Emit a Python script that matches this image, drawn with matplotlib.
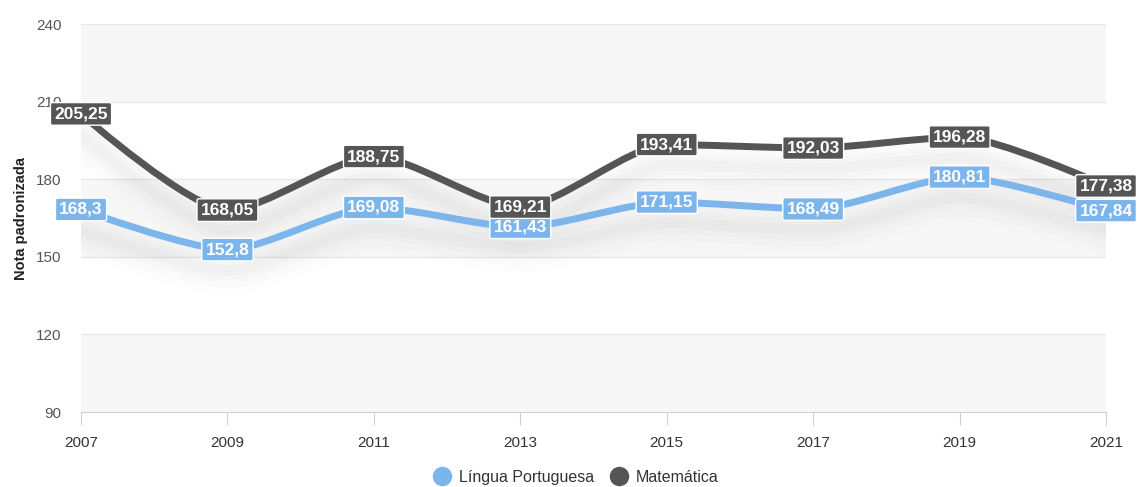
import matplotlib
matplotlib.use("Agg")
import matplotlib.pyplot as plt
from matplotlib.path import Path
from matplotlib.patches import PathPatch
from matplotlib.lines import Line2D

plt.rcParams["font.family"] = ["Liberation Sans", "DejaVu Sans"]

anos = [2007, 2009, 2011, 2013, 2015, 2017, 2019, 2021]
lingua_portuguesa = [168.3, 152.8, 169.08, 161.43, 171.15, 168.49, 180.81, 167.84]
matematica = [205.25, 168.05, 188.75, 169.21, 193.41, 192.03, 196.28, 177.38]
y_ticks = [90, 120, 150, 180, 210, 240]

cor_lp = "#7cb5ec"
cor_mat = "#555555"


def spline_path(xs, ys, smoothing=3.0):
    # spline-ish path: bezier control points from neighbours
    verts = [(xs[0], ys[0])]
    codes = [Path.MOVETO]
    n = len(xs)
    ctrl = []
    for i in range(n):
        if i == 0 or i == n - 1:
            ctrl.append(((xs[i], ys[i]), (xs[i], ys[i])))
            continue
        d = smoothing + 1
        lx = (smoothing * xs[i] + xs[i - 1]) / d
        ly = (smoothing * ys[i] + ys[i - 1]) / d
        rx = (smoothing * xs[i] + xs[i + 1]) / d
        ry = (smoothing * ys[i] + ys[i + 1]) / d
        corr = ((ry - ly) * (rx - xs[i])) / (rx - lx) + ys[i] - ry
        ly += corr
        ry += corr
        if ly > max(ys[i - 1], ys[i]):
            ly = max(ys[i - 1], ys[i]); ry = 2 * ys[i] - ly
        elif ly < min(ys[i - 1], ys[i]):
            ly = min(ys[i - 1], ys[i]); ry = 2 * ys[i] - ly
        if ry > max(ys[i + 1], ys[i]):
            ry = max(ys[i + 1], ys[i]); ly = 2 * ys[i] - ry
        elif ry < min(ys[i + 1], ys[i]):
            ry = min(ys[i + 1], ys[i]); ly = 2 * ys[i] - ry
        ctrl.append(((lx, ly), (rx, ry)))
    for i in range(1, n):
        verts += [ctrl[i - 1][1], ctrl[i][0], (xs[i], ys[i])]
        codes += [Path.CURVE4] * 3
    return Path(verts, codes)


fig = plt.figure(figsize=(11.38, 4.87), dpi=100)
ax = fig.add_axes([0.0712, 0.154, 0.9007, 0.7967])
ax.set_xlim(anos[0], anos[-1])
ax.set_ylim(y_ticks[0], y_ticks[-1])

# alternating plot bands
for i in range(0, len(y_ticks) - 1, 2):
    ax.axhspan(y_ticks[i], y_ticks[i + 1], color="#f7f7f7", zorder=0, lw=0)
for t in y_ticks[1:]:
    ax.axhline(t, color="#e8e8e8", lw=1, zorder=1)

# soft shadow under the lines
for serie in (lingua_portuguesa, matematica):
    for w, a in [(36, 0.008), (26, 0.012), (16, 0.016), (8, 0.02)]:
        sh = [v - 8 for v in serie]
        ax.add_patch(PathPatch(spline_path(anos, sh), fill=False, lw=w,
                               edgecolor="black", alpha=a, zorder=2,
                               capstyle="round", joinstyle="round"))

for serie, cor in ((lingua_portuguesa, cor_lp), (matematica, cor_mat)):
    ax.add_patch(PathPatch(spline_path(anos, serie), fill=False, lw=5,
                           edgecolor=cor, zorder=3, capstyle="round"))
    for x, v in zip(anos, serie):
        txt = ("%g" % v).replace(".", ",")
        ax.text(x, v, txt, ha="center", va="center", color="white",
                fontsize=12.5, fontweight="bold", zorder=5, clip_on=False,
                bbox=dict(boxstyle="round,pad=0.22,rounding_size=0.1",
                          fc=cor, ec="white", lw=1))

for s in ("top", "right", "left"):
    ax.spines[s].set_visible(False)
ax.spines["bottom"].set_color("#d0d0d0")
ax.set_xticks(anos)
ax.set_yticks(y_ticks)
ax.tick_params(axis="x", colors="#d0d0d0", length=9, labelcolor="#333333",
               labelsize=11, pad=8)
ax.tick_params(axis="y", length=0, labelcolor="#555555", labelsize=11, pad=14)
for lbl in ax.get_yticklabels():
    lbl.set_verticalalignment("center_baseline")
    lbl.set_y(0)
ax.set_ylabel("Nota padronizada", fontsize=10.5, fontweight="bold",
              color="#222222", labelpad=6)

handles = [Line2D([], [], ls="none", marker="o", ms=13, color=cor_lp),
           Line2D([], [], ls="none", marker="o", ms=13, color=cor_mat)]
fig.legend(handles, ["Língua Portuguesa", "Matemática"], loc="lower center",
           bbox_to_anchor=(0.503, -0.025), ncol=2, frameon=False,
           fontsize=11.5, handletextpad=0.05, columnspacing=0.6,
           labelcolor="#333333")

fig.savefig("out.png", dpi=100)
